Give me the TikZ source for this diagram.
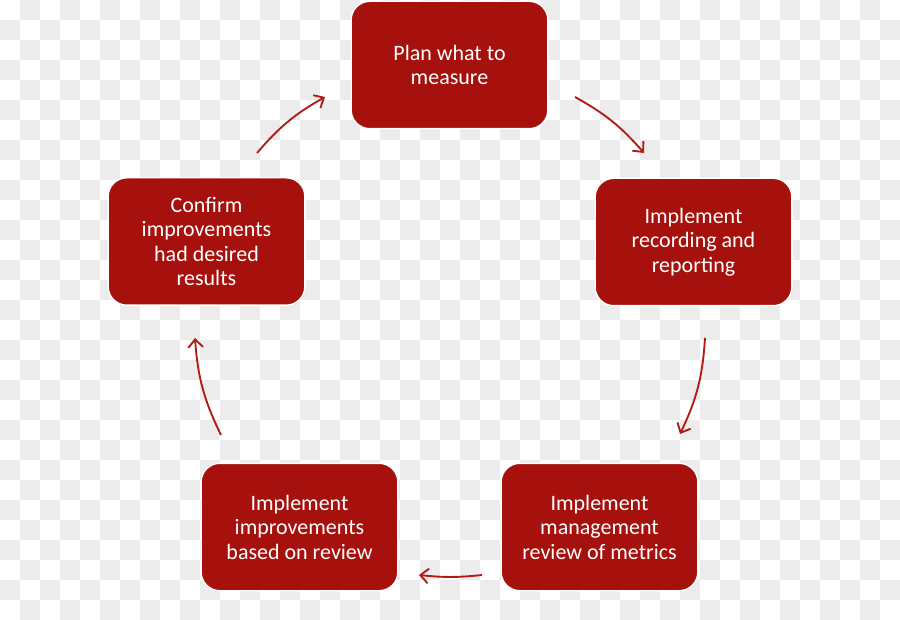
\documentclass[tikz,border=0pt]{standalone}
\usepackage{fontspec}
\setmainfont{Carlito}
\usetikzlibrary{arrows.meta}
\definecolor{rosso}{RGB}{166,17,13}
\definecolor{freccia}{RGB}{178,26,22}
\definecolor{quadro}{RGB}{236,236,236}

\begin{document}
\begin{tikzpicture}[x=0.75pt, y=-0.75pt,
    fase/.style={draw=white, line width=1pt, fill=rosso, rounded corners=14pt,
      minimum width=147.5pt, minimum height=95.5pt, text=white, align=center,
      font=\fontsize{16.5}{18.4}\selectfont},
    giro/.style={draw=freccia, line width=1.4pt, -{Straight Barb[length=6pt, width=11pt]}}]
              \useasboundingbox (0,0) rectangle (900,620);
              % Sfondo
              \fill[white] (0,0) rectangle (900,620);
              \foreach \j in {0,...,30}{
                \pgfmathtruncatemacro{\s}{mod(\j+1,2)}
                \pgfmathtruncatemacro{\t}{\s+2}
                \foreach \i in {\s,\t,...,44}
                  \fill[quadro] (20*\i,20*\j) rectangle ++(20,20);
              }

              % Nodi
              \node[fase] (0) at (449.5, 65) {Plan what to\\measure};
              \node[fase] (1) at (693.5, 242) {Implement\\recording and\\reporting};
              \node[fase] (2) at (599.5, 527) {Implement\\management\\review of metrics};
              \node[fase] (3) at (299.5, 527) {Implement\\improvements\\based on review};
              \node[fase] (4) at (206.5, 241.5) {Confirm\\improvements\\had desired\\results};

              \coordinate (a0) at (575, 97);
              \coordinate (b0) at (644, 153);
              \coordinate (a1) at (705, 338);
              \coordinate (b1) at (680, 434);
              \coordinate (a2) at (482, 575);
              \coordinate (b2) at (419, 575);
              \coordinate (a3) at (221, 435);
              \coordinate (b3) at (195, 338);
              \coordinate (a4) at (257, 153);
              \coordinate (b4) at (325, 97);

              % Frecce
              \draw[giro] (a0) to[bend left=10] (b0);
              \draw[giro] (a1) to[bend left=11] (b1);
              \draw[giro] (a2) to[bend left=6] (b2);
              \draw[giro] (a3) to[bend left=11] (b3);
              \draw[giro] (a4) to[bend left=10] (b4);
\end{tikzpicture}
\end{document}
